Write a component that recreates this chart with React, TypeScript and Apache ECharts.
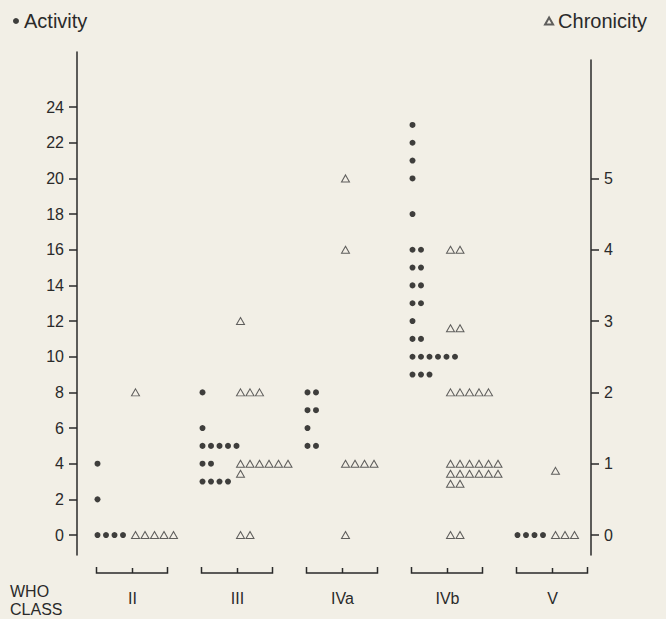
import React, { useEffect, useRef } from "react";
import * as echarts from "echarts";

const CLASSES = ["II", "III", "IVa", "IVb", "V"];
const ACTIVITY_TICKS = [0, 2, 4, 6, 8, 10, 12, 14, 16, 18, 20, 22, 24];
const CHRONICITY_TICKS = [0, 1, 2, 3, 4, 5];

// Activity index per patient, grouped by WHO class
const ACTIVITY_II = [0, 0, 0, 0, 2, 4];
const ACTIVITY_III = [8, 6, 5, 5, 5, 5, 5, 4, 4, 3, 3, 3, 3];
const ACTIVITY_IVA = [8, 8, 7, 7, 6, 5, 5];
const ACTIVITY_IVB = [23, 22, 21, 20, 18, 16, 16, 15, 15, 14, 14, 13, 13, 12, 11, 11, 10, 10, 10, 10, 10, 10, 9, 9, 9];
const ACTIVITY_V = [0, 0, 0, 0];

// Chronicity index per patient, grouped by WHO class
const CHRONICITY_II = [0, 0, 0, 0, 0, 2];
const CHRONICITY_III = [3, 2, 2, 2, 1, 1, 1, 1, 1, 1, 1, 0, 0];
const CHRONICITY_IVA = [5, 4, 1, 1, 1, 1, 0];
const CHRONICITY_IVB = [4, 4, 2.9, 2.9, 2, 2, 2, 2, 2, 1, 1, 1, 1, 1, 1, 1, 1, 1, 1, 1, 1, 1, 1, 0, 0];
const CHRONICITY_V = [0, 0, 0, 0.9];

const ACTIVITY = [ACTIVITY_II, ACTIVITY_III, ACTIVITY_IVA, ACTIVITY_IVB, ACTIVITY_V];
const CHRONICITY = [CHRONICITY_II, CHRONICITY_III, CHRONICITY_IVA, CHRONICITY_IVB, CHRONICITY_V];

const BG = "#f2efe6";
const INK = "#2a2a2a";
const FONT = "'Liberation Sans', Arial, sans-serif";

// dot-plot stacking: equal values in one class are laid side by side
function stackPoints(groups: number[][], startDx: number, stepDx: number, perRow: number, rowDy: number) {
  const out: any[] = [];
  groups.forEach((vals, ci) => {
    const seen = new Map<number, number>();
    vals.forEach((v) => {
      const k = seen.get(v) ?? 0;
      seen.set(v, k + 1);
      const col = k % perRow;
      const row = Math.floor(k / perRow);
      out.push({ value: [ci, v], symbolOffset: [startDx + col * stepDx, row * rowDy] });
    });
  });
  return out;
}

export default function App() {
  const ref = useRef<HTMLDivElement>(null);

  useEffect(() => {
    if (!ref.current) return;
    const chart = echarts.init(ref.current, null, { renderer: "svg" });

    const actMin = -1.12;
    const actMax = 27.09;

    const option: any = {
      animation: false,
      backgroundColor: BG,
      textStyle: { fontFamily: FONT },
      grid: [
        { left: 77, right: 75, top: 52, bottom: 64 },
        { left: 80, right: 61, top: 52, bottom: 64 },
        { left: 77, right: 75, top: 60, bottom: 64 },
      ],
      legend: [
        {
          data: ["Activity"],
          left: 8,
          top: 6,
          itemWidth: 6,
          itemHeight: 6,
          itemGap: 4,
          textStyle: { fontSize: 20, color: INK, fontFamily: FONT },
        },
        {
          data: ["Chronicity"],
          right: 14,
          top: 6,
          itemWidth: 8,
          itemHeight: 7,
          textStyle: { fontSize: 20, color: INK, fontFamily: FONT },
        },
      ],
      xAxis: [
        { gridIndex: 0, type: "value", show: false, min: 0, max: 1 },
        {
          gridIndex: 1,
          type: "value",
          min: -0.5,
          max: 4.5,
          axisLine: { show: false },
          axisTick: { show: false },
          splitLine: { show: false },
          axisLabel: {
            customValues: [0, 1, 2, 3, 4],
            formatter: (v: number) => CLASSES[Math.round(v)] ?? "",
            fontSize: 16,
            color: INK,
            fontFamily: FONT,
            margin: 35,
          },
        },
        { gridIndex: 2, type: "value", show: false, min: 0, max: 1 },
      ],
      yAxis: [
        {
          gridIndex: 0,
          type: "value",
          position: "left",
          min: actMin,
          max: actMax,
          splitLine: { show: false },
          axisLine: { show: true, onZero: false, lineStyle: { color: INK, width: 1.5 } },
          axisTick: { show: true, length: 8, lineStyle: { color: INK, width: 1.5 }, customValues: ACTIVITY_TICKS },
          axisLabel: { customValues: ACTIVITY_TICKS, fontSize: 16, color: INK, fontFamily: FONT, margin: 13 },
        },
        { gridIndex: 1, type: "value", show: false, min: actMin, max: actMax },
        { gridIndex: 1, type: "value", show: false, min: actMin / 4, max: actMax / 4 },
        {
          gridIndex: 2,
          type: "value",
          position: "right",
          min: -0.28,
          max: 6.66,
          splitLine: { show: false },
          axisLine: { show: true, onZero: false, lineStyle: { color: INK, width: 1.5 } },
          axisTick: { show: true, length: 8, lineStyle: { color: INK, width: 1.5 }, customValues: CHRONICITY_TICKS },
          axisLabel: { customValues: CHRONICITY_TICKS, fontSize: 16, color: INK, fontFamily: FONT, margin: 13 },
        },
      ],
      graphic: [
        {
          type: "text",
          left: 10,
          top: 582,
          style: { text: "WHO\nCLASS", fontSize: 16, lineHeight: 18, fill: INK, fontFamily: FONT },
        },
      ],
      series: [
        {
          name: "Activity",
          type: "scatter",
          xAxisIndex: 1,
          yAxisIndex: 1,
          symbol: "circle",
          symbolSize: 6,
          itemStyle: { color: "#111" },
          data: stackPoints(ACTIVITY, -35, 8.5, 6, 9),
        },
        {
          name: "Chronicity",
          type: "scatter",
          xAxisIndex: 1,
          yAxisIndex: 2,
          symbol: "triangle",
          symbolSize: [8, 7],
          itemStyle: { color: BG, borderColor: "#3a3a3a", borderWidth: 1 },
          data: stackPoints(CHRONICITY, 3, 9.5, 6, 10),
        },
        {
          name: "brackets",
          type: "custom",
          xAxisIndex: 1,
          yAxisIndex: 1,
          silent: true,
          data: CLASSES.map((_, i) => [i, 0]),
          renderItem: (params: any, api: any) => {
            const p = api.coord([api.value(0), 0]);
            const cx = p[0];
            const y = params.coordSys.y + params.coordSys.height + 18;
            const style = { stroke: INK, lineWidth: 1.5, fill: "none" };
            return {
              type: "group",
              children: [
                {
                  type: "polyline",
                  shape: { points: [[cx - 36, y - 6], [cx - 36, y], [cx + 35, y], [cx + 35, y - 6]] },
                  style,
                },
                { type: "line", shape: { x1: cx, y1: y, x2: cx, y2: y - 5 }, style },
              ],
            };
          },
        },
      ],
    };

    chart.setOption(option);
    return () => chart.dispose();
  }, []);

  return <div ref={ref} style={{ position: "fixed", left: 0, top: 0, width: 666, height: 619 }} />;
}
